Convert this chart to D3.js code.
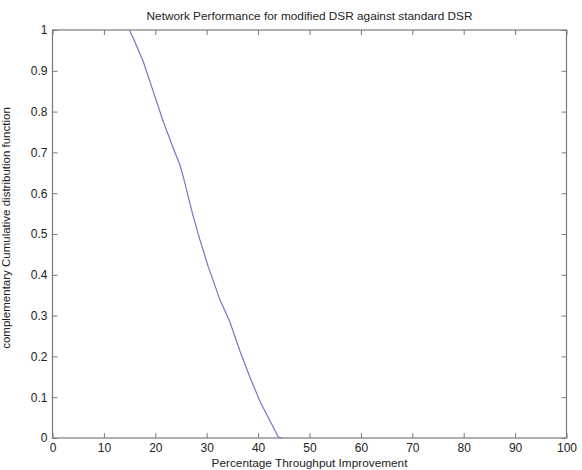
<!DOCTYPE html>
<html><head><meta charset="utf-8">
<script src="https://cdn.jsdelivr.net/npm/d3@7"></script>
<style>body{margin:0;background:#fff}svg{display:block}text{font-family:Arial,"Liberation Sans",sans-serif;fill:#222}</style>
</head><body><svg id="c" width="582" height="470"></svg>
<script>
const throughput = [14.94,15.72,17.67,19.61,21.56,23.50,24.8,25.45,27.4,28.7,30.3,32.6,34.5,36.5,38.5,40.4,42.4,43.9,44.6];
const ccdf       = [1.0,0.98,0.922,0.849,0.775,0.710,0.669,0.640,0.542,0.485,0.420,0.338,0.285,0.212,0.146,0.089,0.040,0.003,0.0];
const xTicks = [0,10,20,30,40,50,60,70,80,90,100];
const yTicks = [0,0.1,0.2,0.3,0.4,0.5,0.6,0.7,0.8,0.9,1];
const title = "Network Performance for modified DSR against standard DSR";
const xLabel = "Percentage Throughput Improvement";
const yLabel = "complementary Cumulative distribution function";

const L=52.5,R=566.5,T=30,B=438;
const svg=d3.select("#c");
const x=d3.scaleLinear().domain([0,100]).range([L,R]);
const y=d3.scaleLinear().domain([0,1]).range([B,T]);
const axisCol="#7a7a7a";
const fmt=d=>String(d);

function style(g){g.select(".domain").remove();g.selectAll(".tick line").attr("stroke",axisCol);g.selectAll(".tick text").style("font-size","12px").attr("fill","#222");}
svg.append("g").attr("transform",`translate(0,${B})`).call(d3.axisBottom(x).tickValues(xTicks).tickFormat(fmt).tickSize(-5).tickPadding(5)).call(style);
svg.append("g").attr("transform",`translate(0,${T})`).call(d3.axisTop(x).tickValues(xTicks).tickFormat("").tickSize(-5)).call(style);
svg.append("g").attr("transform",`translate(${L},0)`).call(d3.axisLeft(y).tickValues(yTicks).tickFormat(fmt).tickSize(-5).tickPadding(5)).call(style);
svg.append("g").attr("transform",`translate(${R},0)`).call(d3.axisRight(y).tickValues(yTicks).tickFormat("").tickSize(-5)).call(style);
svg.append("rect").attr("x",L).attr("y",T).attr("width",R-L).attr("height",B-T).attr("fill","none").attr("stroke",axisCol).attr("stroke-width",1.2);

const line=d3.line().x((d,i)=>x(throughput[i])).y((d,i)=>y(ccdf[i]));
svg.append("path").datum(ccdf).attr("d",line).attr("fill","none").attr("stroke","#7676c6").attr("stroke-width",1.2);

svg.append("text").attr("x",(L+R)/2+0).attr("y",20).attr("text-anchor","middle").style("font-size","11.8px").text(title);
svg.append("text").attr("x",(L+R)/2).attr("y",467).attr("text-anchor","middle").style("font-size","11.8px").text(xLabel);
svg.append("text").attr("transform",`translate(10,${(T+B)/2-6}) rotate(-90)`).attr("text-anchor","middle").style("font-size","11.5px").text(yLabel);
</script></body></html>
